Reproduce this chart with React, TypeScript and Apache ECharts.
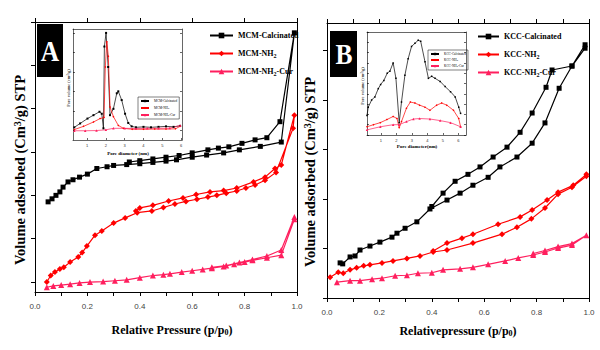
import React, { useEffect, useRef } from "react";
import * as echarts from "echarts";

// ---------- Panel A (MCM) isotherms: [p/p0, volume] (adsorption then desorption) ----------
const mcmCalcinated: number[][] = [
  [0.05, 185], [0.065, 192], [0.08, 200], [0.095, 208], [0.107, 219], [0.126, 231], [0.145, 236],
  [0.17, 242], [0.2, 249], [0.236, 262], [0.275, 266], [0.3, 269], [0.35, 271], [0.4, 273],
  [0.45, 276], [0.5, 279], [0.54, 282], [0.6, 288], [0.655, 293], [0.72, 298], [0.78, 305],
  [0.86, 313], [0.94, 323], [0.99, 575],
  [0.935, 370], [0.885, 333], [0.84, 328], [0.79, 320], [0.74, 312], [0.7, 309], [0.66, 305],
  [0.6, 298], [0.55, 292], [0.5, 288], [0.45, 284], [0.4, 280], [0.36, 277]
];
const mcmNH2: number[][] = [
  [0.045, 0], [0.06, 15], [0.076, 23], [0.095, 30], [0.11, 34], [0.134, 46], [0.165, 58],
  [0.18, 68], [0.198, 83], [0.229, 108], [0.255, 118], [0.3, 136], [0.344, 148], [0.39, 160],
  [0.446, 164], [0.49, 172], [0.534, 180], [0.576, 186], [0.618, 191], [0.66, 196], [0.694, 200],
  [0.73, 205], [0.77, 210], [0.805, 217], [0.84, 224], [0.878, 235], [0.92, 253], [0.985, 355],
  [0.99, 385],
  [0.94, 270], [0.916, 262], [0.878, 242], [0.834, 231], [0.77, 217], [0.72, 211], [0.668, 208],
  [0.615, 202], [0.565, 194], [0.51, 187], [0.45, 177], [0.4, 171], [0.385, 164]
];
const mcmNH2Cur: number[][] = [
  [0.045, -12], [0.07, -9], [0.1, -7], [0.134, -5], [0.17, -2], [0.21, 0], [0.26, 1], [0.305, 3],
  [0.35, 5], [0.4, 10], [0.45, 15], [0.49, 17], [0.515, 19], [0.56, 23], [0.6, 26], [0.64, 29],
  [0.675, 32], [0.72, 36], [0.76, 41], [0.8, 46], [0.83, 50], [0.885, 56], [0.94, 62], [0.99, 145],
  [0.99, 150], [0.94, 74], [0.885, 60], [0.83, 52], [0.78, 45], [0.73, 38], [0.675, 34]
];

// ---------- Panel A inset: pore size distribution [nm, relative volume] ----------
const mcmCalPSD: number[][] = [
  [0.32, 0.03], [0.63, 0.07], [1.02, 0.12], [1.34, 0.155], [1.66, 0.19], [1.78, 0.17], [1.87, 0.02],
  [1.92, 0.86], [2.01, 1.0], [2.12, 0.65], [2.22, 0.155], [2.4, 0.22], [2.58, 0.38], [2.66, 0.4],
  [2.84, 0.31], [3.02, 0.17], [3.19, 0.075], [3.37, 0.04], [3.6, 0.03], [4.0, 0.035], [4.4, 0.03],
  [4.8, 0.035], [5.2, 0.04], [5.6, 0.035], [5.95, 0.045]
];
const mcmNH2PSD: number[][] = [
  [0.32, 0.007], [0.81, 0.04], [1.34, 0.085], [1.69, 0.12], [1.9, 0.13], [1.97, 0.65], [2.05, 0.91],
  [2.13, 0.76], [2.22, 0.24], [2.4, 0.14], [2.66, 0.05], [2.93, 0.02], [3.4, 0.01], [4.0, 0.01],
  [4.6, 0.012], [5.2, 0.012], [5.7, 0.015], [5.95, 0.04]
];
const mcmCurPSD: number[][] = [
  [0.32, -0.005], [0.9, -0.005], [1.5, -0.003], [2.0, 0.005], [2.4, 0.02], [3.0, 0.02], [3.6, 0.018],
  [4.2, 0.02], [4.8, 0.02], [5.4, 0.022], [5.95, 0.05]
];

// ---------- Panel B (KCC) isotherms ----------
const kccCalcinated: number[][] = [
  [0.05, 71], [0.06, 69], [0.088, 83], [0.107, 85], [0.126, 97], [0.164, 105], [0.202, 113],
  [0.248, 123], [0.267, 131], [0.298, 141], [0.343, 154], [0.393, 180], [0.458, 198], [0.508, 212],
  [0.557, 228], [0.615, 244], [0.66, 265], [0.725, 285], [0.783, 313], [0.832, 354], [0.886, 424],
  [0.935, 469], [0.985, 505],
  [0.985, 512], [0.935, 469], [0.859, 461], [0.836, 426], [0.783, 374], [0.737, 335], [0.687, 305],
  [0.634, 285], [0.584, 265], [0.538, 250], [0.489, 236], [0.443, 212], [0.4, 185]
];
const kccNH2: number[][] = [
  [0.012, 42], [0.043, 52], [0.062, 50], [0.088, 57], [0.113, 61], [0.14, 65], [0.164, 67],
  [0.21, 71], [0.252, 75], [0.305, 80], [0.355, 85], [0.405, 93], [0.458, 97], [0.557, 111],
  [0.668, 129], [0.725, 143], [0.78, 160], [0.832, 182], [0.882, 210], [0.935, 224], [0.99, 246],
  [0.99, 250], [0.94, 228], [0.882, 214], [0.84, 198], [0.783, 178], [0.737, 164], [0.653, 149],
  [0.557, 129], [0.515, 121], [0.458, 111], [0.405, 95]
];
const kccNH2Cur: number[][] = [
  [0.038, 32], [0.088, 35], [0.126, 35], [0.172, 38], [0.21, 40], [0.26, 45], [0.305, 46],
  [0.347, 50], [0.4, 51], [0.443, 57], [0.508, 59], [0.557, 62], [0.615, 68], [0.68, 75],
  [0.73, 81], [0.787, 87], [0.832, 93], [0.882, 101], [0.935, 107], [0.99, 127],
  [0.935, 110], [0.882, 104], [0.832, 96], [0.787, 90]
];

// ---------- Panel B inset ----------
const kccCalPSD: number[][] = [
  [0.1, 0.19], [0.18, 0.27], [0.4, 0.34], [0.61, 0.37], [0.83, 0.45], [0.98, 0.49], [1.19, 0.53],
  [1.41, 0.6], [1.58, 0.62], [1.79, 0.7], [1.97, 0.55], [2.18, 0.12], [2.33, 0.32], [2.55, 0.58],
  [2.76, 0.74], [2.98, 0.86], [3.2, 0.89], [3.41, 0.92], [3.57, 0.91], [3.85, 0.71], [4.07, 0.55],
  [4.28, 0.57], [4.5, 0.55], [4.83, 0.52], [5.15, 0.47], [5.5, 0.42], [5.8, 0.37], [6.03, 0.27],
  [6.15, 0.21]
];
const kccNH2PSD: number[][] = [
  [0.1, 0.08], [0.52, 0.1], [0.96, 0.12], [1.39, 0.15], [1.79, 0.18], [2.04, 0.16], [2.18, 0.07],
  [2.33, 0.13], [2.65, 0.26], [2.9, 0.32], [3.2, 0.31], [3.5, 0.29], [3.85, 0.27], [4.17, 0.24],
  [4.6, 0.29], [4.93, 0.31], [5.26, 0.29], [5.69, 0.24], [6.03, 0.16], [6.15, 0.08]
];
const kccCurPSD: number[][] = [
  [0.1, 0.05], [0.96, 0.08], [1.79, 0.1], [2.18, 0.1], [2.65, 0.13], [3.1, 0.155], [3.5, 0.16],
  [4.17, 0.155], [4.83, 0.14], [5.5, 0.12], [6.15, 0.08]
];

// ---------- tick values ----------
const mainXLabels = [0, 0.2, 0.4, 0.6, 0.8, 1.0];
const yTicksA = [0, 100, 200, 300, 400, 500, 600];
const yTicksB = [0, 100, 200, 300, 400, 500];
const insetXTicks = [1, 2, 3, 4, 5, 6];
const insetYTicksA = [0, 0.2, 0.4, 0.6, 0.8, 1.0];
const insetYTicksB = [0, 0.1, 0.2, 0.3, 0.4, 0.5, 0.6, 0.7, 0.8, 0.9, 1.0];

const legendLabels: Record<string, string> = {
  A_cal: "MCM-Calcinated", A_nh2: "MCM-NH{s|2}", A_cur: "MCM-NH{s|2}-Cur",
  Ai_cal: "MCM-Calcinated", Ai_nh2: "MCM-NH{s|2}", Ai_cur: "MCM-NH{s|2}-Cur",
  B_cal: "KCC-Calcinated", B_nh2: "KCC-NH{s|2}", B_cur: "KCC-NH{s|2}-Cur",
  Bi_cal: "KCC-Calcinated", Bi_nh2: "KCC-NH{s|2}", Bi_cur: "KCC-NH{s|2}-Cur",
};

const BLACK = "#000000";
const RED = "#ff0000";
const PINK = "#ff1f5e";
const SERIF = '"Liberation Serif", "Times New Roman", serif';
const SANS = '"Liberation Sans", Arial, sans-serif';

export default function App() {
  const ref = useRef<HTMLDivElement>(null);
  useEffect(() => {
    if (!ref.current) return;
    const chart = echarts.init(ref.current, undefined, { renderer: "svg" });

    const line = { lineStyle: { color: BLACK, width: 1 } };
    const mainX = (grid: number, top: boolean, step: number) => ({
      type: "value", gridIndex: grid, position: top ? "top" : "bottom", min: 0, max: 1, interval: step,
      axisLine: { show: true, onZero: false, ...line },
      axisTick: { show: true, length: 4, inside: false, ...line },
      splitLine: { show: false },
      axisLabel: top ? { show: false } : {
        show: true, customValues: mainXLabels, fontSize: 8, color: "#444", fontFamily: SANS, margin: 10,
        formatter: (v: number) => v.toFixed(1),
      },
    });
    const mainY = (grid: number, right: boolean, min: number, max: number, ticks: number[]) => ({
      type: "value", gridIndex: grid, position: right ? "right" : "left", min, max,
      axisLine: { show: true, onZero: false, ...line },
      axisTick: right ? { show: false } : { show: true, length: 4, inside: false, customValues: ticks, ...line },
      axisLabel: { show: false },
      splitLine: { show: false },
    });
    const insetLine = { lineStyle: { color: BLACK, width: 0.6 } };
    const insetX = (grid: number, top: boolean, min: number, max: number) => ({
      type: "value", gridIndex: grid, position: top ? "top" : "bottom", min, max,
      axisLine: { show: true, onZero: false, ...insetLine },
      axisTick: top ? { show: false } : { show: true, inside: true, length: 2, customValues: insetXTicks, ...insetLine },
      axisLabel: top ? { show: false } : {
        show: true, customValues: insetXTicks, fontSize: 4, color: "#333", fontFamily: SANS, margin: 3,
      },
      splitLine: { show: false },
    });
    const insetY = (grid: number, right: boolean, min: number, max: number, ticks: number[]) => ({
      type: "value", gridIndex: grid, position: right ? "right" : "left", min, max,
      axisLine: { show: true, onZero: false, ...insetLine },
      axisTick: { show: true, inside: true, length: 2, customValues: ticks, ...insetLine },
      axisLabel: { show: false },
      splitLine: { show: false },
    });

    const mk = (name: string, data: number[][], color: string, symbol: string, size: number,
      xi: number, yi: number, width: number) => ({
      name, type: "line", data, xAxisIndex: xi, yAxisIndex: yi,
      symbol, symbolSize: size, showSymbol: true,
      lineStyle: { color, width }, itemStyle: { color, borderWidth: 0 },
      emphasis: { disabled: true }, z: 3,
    });

    const mainLegendText = {
      fontSize: 8, fontWeight: "bold", fontFamily: SERIF, color: BLACK, lineHeight: 11,
      rich: { s: { fontSize: 6, fontWeight: "bold", fontFamily: SERIF, verticalAlign: "bottom", lineHeight: 6 } },
    };
    const insetLegendText = {
      fontSize: 3.3, fontFamily: SERIF, color: BLACK, lineHeight: 4,
      rich: { s: { fontSize: 2.5, fontFamily: SERIF, verticalAlign: "bottom", lineHeight: 3 } },
    };
    const fmt = (n: string) => legendLabels[n] || n;

    const titleRich = {
      s: { fontSize: 8, fontWeight: "bold", fontFamily: SERIF, verticalAlign: "bottom", lineHeight: 8 },
      p: { fontSize: 10, fontWeight: "bold", fontFamily: SERIF, verticalAlign: "top", lineHeight: 10 },
    };

    chart.setOption({
      animation: false,
      backgroundColor: "#ffffff",
      grid: [
        { left: 35, top: 22, width: 262, height: 270 },
        { left: 73, top: 29, width: 109, height: 111 },
        { left: 327, top: 23, width: 262, height: 275 },
        { left: 367, top: 32, width: 99, height: 103 },
      ],
      xAxis: [
        mainX(0, false, 0.1), mainX(0, true, 0.2),
        insetX(1, false, 0.25, 6.05), insetX(1, true, 0.25, 6.05),
        mainX(2, false, 0.1), mainX(2, true, 0.1),
        insetX(3, false, 0.1, 6.5), insetX(3, true, 0.1, 6.5),
      ],
      yAxis: [
        mainY(0, false, -23, 600, yTicksA), mainY(0, true, -23, 600, yTicksA),
        insetY(1, false, -0.1, 1.04, insetYTicksA), insetY(1, true, -0.1, 1.04, insetYTicksA),
        mainY(2, false, 0, 556, yTicksB), mainY(2, true, 0, 556, yTicksB),
        insetY(3, false, 0, 1, insetYTicksB), insetY(3, true, 0, 1, insetYTicksB),
      ],
      legend: [
        {
          data: ["A_cal", "A_nh2", "A_cur"], orient: "vertical", left: 209, top: 30, padding: 0,
          itemWidth: 23, itemHeight: 7, itemGap: 7, formatter: fmt, textStyle: mainLegendText,
          selectedMode: false,
        },
        {
          data: ["B_cal", "B_nh2", "B_cur"], orient: "vertical", left: 477, top: 31, padding: 0,
          itemWidth: 21, itemHeight: 7, itemGap: 7, formatter: fmt, textStyle: mainLegendText,
          selectedMode: false,
        },
        {
          data: ["Ai_cal", "Ai_nh2", "Ai_cur"], orient: "vertical", left: 138, top: 97,
          padding: [2, 2, 2, 2], borderColor: BLACK, borderWidth: 0.5,
          itemWidth: 8, itemHeight: 3, itemGap: 3, formatter: fmt, textStyle: insetLegendText,
          selectedMode: false,
        },
        {
          data: ["Bi_cal", "Bi_nh2", "Bi_cur"], orient: "vertical", left: 428, top: 50,
          padding: [2, 2, 2, 2], borderColor: BLACK, borderWidth: 0.5,
          itemWidth: 8, itemHeight: 3, itemGap: 2, formatter: fmt, textStyle: insetLegendText,
          selectedMode: false,
        },
      ],
      series: [
        mk("A_cal", mcmCalcinated, BLACK, "rect", 5, 0, 0, 1.2),
        mk("A_nh2", mcmNH2, RED, "diamond", 6, 0, 0, 1.2),
        mk("A_cur", mcmNH2Cur, PINK, "triangle", 6, 0, 0, 1.2),
        mk("Ai_cal", mcmCalPSD, BLACK, "rect", 2, 2, 2, 0.7),
        mk("Ai_nh2", mcmNH2PSD, RED, "diamond", 2, 2, 2, 0.7),
        mk("Ai_cur", mcmCurPSD, PINK, "triangle", 2.5, 2, 2, 0.7),
        mk("B_cal", kccCalcinated, BLACK, "rect", 5, 4, 4, 1.2),
        mk("B_nh2", kccNH2, RED, "diamond", 6, 4, 4, 1.2),
        mk("B_cur", kccNH2Cur, PINK, "triangle", 6, 4, 4, 1.2),
        mk("Bi_cal", kccCalPSD, BLACK, "rect", 1.5, 6, 6, 0.7),
        mk("Bi_nh2", kccNH2PSD, RED, "diamond", 2, 6, 6, 0.7),
        mk("Bi_cur", kccCurPSD, PINK, "triangle", 2.5, 6, 6, 0.7),
      ],
      graphic: [
        { type: "rect", left: 37, top: 24, shape: { width: 26, height: 53 }, style: { fill: BLACK } },
        {
          type: "text", x: 50, y: 51, scaleX: 0.85,
          style: { text: "A", fill: "#fff", font: `bold 30px ${SERIF}`, textAlign: "center", textVerticalAlign: "middle" },
        },
        { type: "rect", left: 330, top: 31, shape: { width: 27, height: 46 }, style: { fill: BLACK } },
        {
          type: "text", x: 344, y: 54, scaleX: 0.85,
          style: { text: "B", fill: "#fff", font: `bold 30px ${SERIF}`, textAlign: "center", textVerticalAlign: "middle" },
        },
        {
          type: "text", x: 20, y: 170, rotation: Math.PI / 2,
          style: {
            text: "Volume adsorbed (Cm{p|3}/g) STP", fill: BLACK, font: `bold 14.5px ${SERIF}`,
            textAlign: "center", textVerticalAlign: "middle", rich: titleRich,
          },
        },
        {
          type: "text", x: 310, y: 172, rotation: Math.PI / 2,
          style: {
            text: "Volume adsorbed (Cm{p|3}/g) STP", fill: BLACK, font: `bold 14.5px ${SERIF}`,
            textAlign: "center", textVerticalAlign: "middle", rich: titleRich,
          },
        },
        {
          type: "text", x: 172, y: 330,
          style: {
            text: "Relative Pressure (p/p{s|0})", fill: BLACK, font: `bold 12px ${SERIF}`,
            textAlign: "center", textVerticalAlign: "middle", rich: titleRich,
          },
        },
        {
          type: "text", x: 458, y: 331,
          style: {
            text: "Relativepressure (p/p{s|0})", fill: BLACK, font: `bold 12px ${SERIF}`,
            textAlign: "center", textVerticalAlign: "middle", rich: titleRich,
          },
        },
        {
          type: "text", x: 68, y: 88, rotation: Math.PI / 2,
          style: { text: "Pore volume (cm³/g)", fill: BLACK, font: `4.5px ${SERIF}`, textAlign: "center", textVerticalAlign: "middle" },
        },
        {
          type: "text", x: 362, y: 86, rotation: Math.PI / 2,
          style: { text: "Pore volume (cm³/g)", fill: BLACK, font: `4.5px ${SERIF}`, textAlign: "center", textVerticalAlign: "middle" },
        },
        {
          type: "text", x: 128, y: 153,
          style: { text: "Pore diameter (nm)", fill: BLACK, font: `bold 5px ${SERIF}`, textAlign: "center", textVerticalAlign: "middle" },
        },
        {
          type: "text", x: 417, y: 146,
          style: { text: "Pore diameter(nm)", fill: BLACK, font: `bold 5px ${SERIF}`, textAlign: "center", textVerticalAlign: "middle" },
        },
      ],
    });
    return () => chart.dispose();
  }, []);
  return (
    <div
      ref={ref}
      style={{ position: "fixed", left: 0, top: 0, width: 600, height: 350, background: "#fff" }}
    />
  );
}
